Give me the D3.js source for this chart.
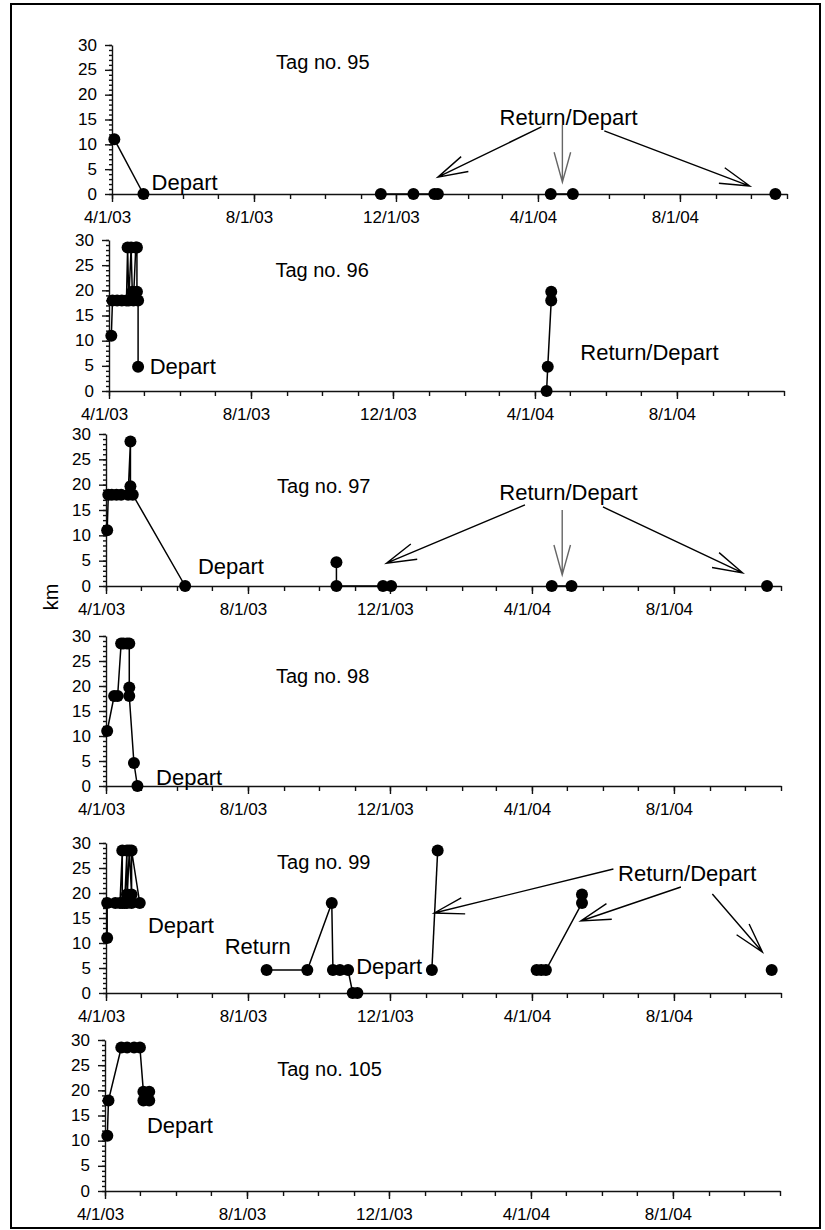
<!DOCTYPE html>
<html>
<head>
<meta charset="utf-8">
<script src="https://cdn.jsdelivr.net/npm/d3@7"></script>
<style>
body { margin: 0; background: #fff; }
text { font-family: "Liberation Sans", Arial, sans-serif; fill: #000; }
</style>
</head>
<body>
<svg id="chart"></svg>
<script>
var parse = d3.timeParse('%Y-%m-%d');

// tag names, one per panel
var tagNames = ['Tag no. 95', 'Tag no. 96', 'Tag no. 97', 'Tag no. 98', 'Tag no. 99', 'Tag no. 105'];

// each tag: list of connected segments of [date, km]
var tag95 = [
    [['2003-04-03', 11], ['2003-04-28', 0]],
    [['2003-11-18', 0], ['2003-12-16', 0], ['2004-01-03', 0], ['2004-01-06', 0]],
    [['2004-04-12', 0], ['2004-05-01', 0]],
    [['2004-10-22', 0]]
];
var tag96 = [
    [['2003-04-03', 11], ['2003-04-04', 18], ['2003-04-08', 18], ['2003-04-12', 18], ['2003-04-16', 18],
     ['2003-04-17', 28.5], ['2003-04-18', 18], ['2003-04-20', 28.5], ['2003-04-21', 19.7], ['2003-04-22', 18],
     ['2003-04-24', 28.5], ['2003-04-25', 28.5], ['2003-04-25', 19.7], ['2003-04-26', 18], ['2003-04-26', 4.8]],
    [['2004-04-11', 0], ['2004-04-12', 4.8], ['2004-04-15', 18], ['2004-04-15', 19.7]]
];
var tag97 = [
    [['2003-04-02', 11], ['2003-04-03', 18], ['2003-04-06', 18], ['2003-04-10', 18], ['2003-04-14', 18],
     ['2003-04-20', 18], ['2003-04-22', 28.5], ['2003-04-22', 19.7], ['2003-04-24', 18], ['2003-06-08', 0]],
    [['2003-10-16', 4.7], ['2003-10-16', 0], ['2003-11-25', 0], ['2003-12-02', 0]],
    [['2004-04-18', 0], ['2004-05-05', 0]],
    [['2004-10-20', 0]]
];
var tag98 = [
    [['2003-04-02', 11], ['2003-04-08', 18], ['2003-04-11', 18], ['2003-04-14', 28.5], ['2003-04-16', 28.5],
     ['2003-04-19', 28.5], ['2003-04-21', 28.5], ['2003-04-21', 19.7], ['2003-04-21', 18], ['2003-04-25', 4.6],
     ['2003-04-28', 0]]
];
var tag99 = [
    [['2003-04-02', 11], ['2003-04-02', 18], ['2003-04-09', 18], ['2003-04-13', 18], ['2003-04-15', 28.5],
     ['2003-04-15', 18], ['2003-04-17', 18], ['2003-04-19', 28.5], ['2003-04-19', 19.7], ['2003-04-19', 18],
     ['2003-04-21', 28.5], ['2003-04-23', 19.7], ['2003-04-23', 18], ['2003-04-23', 28.5], ['2003-04-30', 18]],
    [['2003-08-17', 4.6], ['2003-09-21', 4.6], ['2003-10-12', 18], ['2003-10-13', 4.6], ['2003-10-19', 4.6],
     ['2003-10-26', 4.6], ['2003-10-30', 0], ['2003-11-03', 0]],
    [['2004-01-06', 4.6], ['2004-01-11', 28.5]],
    [['2004-04-05', 4.6], ['2004-04-09', 4.6], ['2004-04-13', 4.6], ['2004-05-14', 18], ['2004-05-14', 19.7]],
    [['2004-10-24', 4.6]]
];
var tag105 = [
    [['2003-04-03', 11], ['2003-04-04', 18], ['2003-04-15', 28.5], ['2003-04-20', 28.5], ['2003-04-26', 28.5],
     ['2003-05-01', 28.5], ['2003-05-04', 19.7], ['2003-05-04', 18], ['2003-05-09', 19.7], ['2003-05-09', 18]]
];
var tags = [tag95, tag96, tag97, tag98, tag99, tag105];

// text notes per panel, anchored at [date, km]
var notes = [
    [[tagNames[0], '2003-08-20', 25.2], ['Depart', '2003-05-05', 0.8], ['Return/Depart', '2004-02-28', 13.9]],
    [[tagNames[1], '2003-08-22', 22.7], ['Depart', '2003-05-06', 3.4], ['Return/Depart', '2004-05-10', 6.2]],
    [[tagNames[2], '2003-08-26', 18.3], ['Depart', '2003-06-19', 2.4], ['Return/Depart', '2004-03-04', 17]],
    [[tagNames[3], '2003-08-25', 20.6], ['Depart', '2003-05-14', 0.2]],
    [[tagNames[4], '2003-08-26', 24.8], ['Depart', '2003-05-07', 12], ['Return', '2003-07-12', 7.8],
     ['Depart', '2003-11-02', 3.8], ['Return/Depart', '2004-06-14', 22.4]],
    [[tagNames[5], '2003-08-27', 22.9], ['Depart', '2003-05-07', 11.5]]
];

// arrows per panel: from [date, km] to [date, km], grey flag
var arrows = [
    [['2004-04-04', 13.5, '2004-01-06', 3.4, false], ['2004-04-22', 13.9, '2004-04-22', 2.4, true],
     ['2004-05-28', 12.7, '2004-09-30', 1.6, false]],
    [],
    [['2004-03-26', 16, '2003-11-28', 4.5, false], ['2004-04-27', 15, '2004-04-27', 2.2, true],
     ['2004-06-01', 15.6, '2004-09-29', 2.6, false]],
    [],
    [['2004-06-10', 24.8, '2004-01-08', 16, false], ['2004-08-07', 21.2, '2004-05-13', 14.4, false],
     ['2004-09-03', 19.8, '2004-10-16', 8.2, false]],
    []
];

var majorDates = ['2003-04-01', '2003-08-01', '2003-12-01', '2004-04-01', '2004-08-01'];
var kmTicks = [0, 5, 10, 15, 20, 25, 30];

var svgWidth = 825;
var svgHeight = 1230;

// panel placement (the scan drifts a little from panel to panel)
var panelLeft = [112, 109, 106, 106, 106, 105];
var panelTop = [45, 240, 434, 636, 843, 1040];
var panelBottom = [194, 391, 586, 786, 993, 1191];
var plotWidth = 675;

var svg = d3.select('#chart')
    .attr('width', svgWidth)
    .attr('height', svgHeight);

svg.append('rect')
    .attr('x', 11).attr('y', 4)
    .attr('width', 809).attr('height', 1224)
    .attr('fill', 'none')
    .attr('stroke', '#000')
    .attr('stroke-width', 2);

svg.append('text')
    .attr('transform', 'translate(58,597) rotate(-90)')
    .attr('text-anchor', 'middle')
    .style('font-size', '20px')
    .text('km');

var fmt = d3.timeFormat('%-m/%-d/%y');

function drawArrow(g, x1, y1, x2, y2, color) {
    var ang = Math.atan2(y1 - y2, x1 - x2);
    var L = 31, a = 0.27;
    var p = d3.path();
    p.moveTo(x1, y1); p.lineTo(x2, y2);
    p.moveTo(x2 + L * Math.cos(ang + a), y2 + L * Math.sin(ang + a));
    p.lineTo(x2, y2);
    p.lineTo(x2 + L * Math.cos(ang - a), y2 + L * Math.sin(ang - a));
    g.append('path')
        .attr('d', p.toString())
        .attr('fill', 'none')
        .attr('stroke', color)
        .attr('stroke-width', 1.4);
}

tags.forEach(function(tag, i) {
    var g = svg.append('g').attr('transform', `translate(${panelLeft[i]},0)`);

    var xScale = d3.scaleTime()
        .domain([parse('2003-04-01'), parse('2004-11-01')])
        .range([0, plotWidth]);
    var yScale = d3.scaleLinear()
        .domain([0, 30])
        .range([panelBottom[i], panelTop[i]]);

    // x axis: monthly minor ticks, labelled every 4 months
    g.append('g')
        .attr('class', 'axis')
        .attr('transform', `translate(0,${panelBottom[i]})`)
        .call(d3.axisBottom(xScale).ticks(d3.timeMonth.every(1)).tickSize(5).tickSizeOuter(0).tickFormat(''));
    var xMajor = g.append('g')
        .attr('class', 'axis')
        .attr('transform', `translate(0,${panelBottom[i]})`)
        .call(d3.axisBottom(xScale).tickValues(majorDates.map(parse)).tickSize(8).tickSizeOuter(0)
            .tickPadding(9).tickFormat(fmt));
    xMajor.select('.domain').remove();
    xMajor.selectAll('text').attr('dx', -5).style('font-size', '17px');

    // y axis
    g.append('g')
        .attr('class', 'axis')
        .call(d3.axisLeft(yScale).tickValues(d3.range(0, 31, 1)).tickSize(3).tickSizeOuter(0).tickFormat(''));
    var yMajor = g.append('g')
        .attr('class', 'axis')
        .call(d3.axisLeft(yScale).tickValues(kmTicks).tickSize(7).tickSizeOuter(0).tickPadding(8));
    yMajor.select('.domain').remove();
    yMajor.selectAll('text').attr('dy', '0.3em').style('font-size', '17px');

    g.selectAll('.axis path, .axis line')
        .attr('stroke', '#111')
        .attr('stroke-width', 1.4);

    var line = d3.line()
        .x(d => xScale(parse(d[0])))
        .y(d => yScale(d[1]));

    tag.forEach(function(seg) {
        g.append('path')
            .attr('d', line(seg))
            .attr('fill', 'none')
            .attr('stroke', '#000')
            .attr('stroke-width', 1.5);
        g.append('g').selectAll('circle')
            .data(seg)
            .enter()
            .append('circle')
            .attr('cx', d => xScale(parse(d[0])))
            .attr('cy', d => yScale(d[1]))
            .attr('r', 6)
            .attr('fill', '#000');
    });

    notes[i].forEach(function(n) {
        g.append('text')
            .attr('x', xScale(parse(n[1])))
            .attr('y', yScale(n[2]))
            .style('font-size', n[0].indexOf('Tag') === 0 ? '20px' : '22px')
            .text(n[0]);
    });

    arrows[i].forEach(function(a) {
        drawArrow(g, xScale(parse(a[0])), yScale(a[1]), xScale(parse(a[2])), yScale(a[3]), a[4] ? '#666' : '#000');
    });
});
</script>
</body>
</html>
